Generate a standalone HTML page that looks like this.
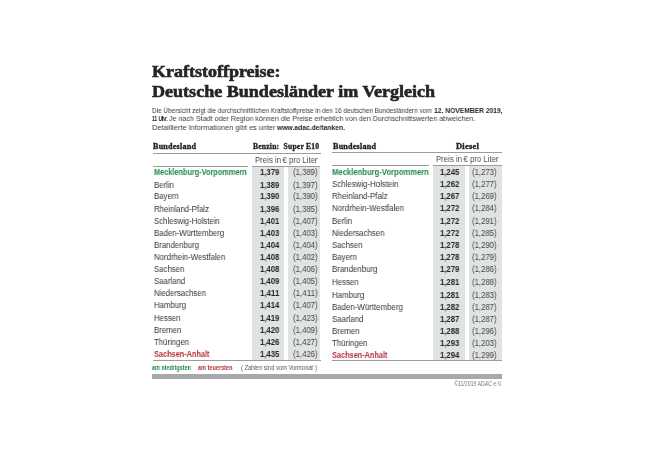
<!DOCTYPE html>
<html><head><meta charset="utf-8"><style>
html,body{margin:0;padding:0;background:#fff;width:650px;height:449px;overflow:hidden;position:relative}
.t{position:absolute;white-space:nowrap;line-height:1;will-change:transform}
.r{position:absolute}
b{font-weight:bold}
</style></head><body>
<div class="t" id="e0" style="top:62.94px;font-family:'Liberation Serif', serif;font-size:17.5px;font-weight:bold;color:#242424;letter-spacing:0px;left:152.2px;transform-origin:0 0;transform:scaleX(1.0284);-webkit-text-stroke:0.6px #242424;">Kraftstoffpreise:</div>
<div class="t" id="e1" style="top:82.74px;font-family:'Liberation Serif', serif;font-size:17.5px;font-weight:bold;color:#242424;letter-spacing:0px;left:152.2px;transform-origin:0 0;transform:scaleX(1.0319);-webkit-text-stroke:0.6px #242424;">Deutsche Bundesländer im Vergleich</div>
<div class="t" id="e2" style="top:106.87px;font-family:'Liberation Sans', sans-serif;font-size:7.6px;font-weight:normal;color:#3a3a3a;letter-spacing:0px;left:152px;transform-origin:0 0;transform:scaleX(0.8420);">Die Übersicht zeigt die durchschnittlichen Kraftstoffpreise in den 16 deutschen Bundesländern vom</div>
<div class="t" id="e3" style="top:106.87px;font-family:'Liberation Sans', sans-serif;font-size:7.6px;font-weight:bold;color:#262626;letter-spacing:0px;left:433.6px;transform-origin:0 0;transform:scaleX(0.8832);">12. NOVEMBER 2019,</div>
<div class="t" id="e4" style="top:115.27px;font-family:'Liberation Sans', sans-serif;font-size:7.6px;font-weight:bold;color:#262626;letter-spacing:0px;left:152px;transform-origin:0 0;transform:scaleX(0.6344);">11 Uhr.</div>
<div class="t" id="e5" style="top:115.27px;font-family:'Liberation Sans', sans-serif;font-size:7.6px;font-weight:normal;color:#3a3a3a;letter-spacing:0px;left:169.0px;transform-origin:0 0;transform:scaleX(0.9387);">Je nach Stadt oder Region können die Preise erheblich von den Durchschnittswerten abweichen.</div>
<div class="t" id="e6" style="top:123.67px;font-family:'Liberation Sans', sans-serif;font-size:7.6px;font-weight:normal;color:#3a3a3a;letter-spacing:0px;left:152px;transform-origin:0 0;transform:scaleX(0.9624);">Detaillierte Informationen gibt es unter</div>
<div class="t" id="e7" style="top:123.67px;font-family:'Liberation Sans', sans-serif;font-size:7.6px;font-weight:bold;color:#262626;letter-spacing:0px;left:277.2px;transform-origin:0 0;transform:scaleX(0.8885);">www.adac.de/tanken.</div>
<div class="t" id="e8" style="top:143.32px;font-family:'Liberation Serif', serif;font-size:7.5px;font-weight:bold;color:#222;letter-spacing:0.2px;left:153.1px;transform-origin:0 0;transform:scaleX(1.0813);-webkit-text-stroke:0.3px #222;">Bundesland</div>
<div class="t" id="e9" style="top:143.32px;font-family:'Liberation Serif', serif;font-size:7.5px;font-weight:bold;color:#222;letter-spacing:0.2px;left:252.95px;transform-origin:0 0;transform:scaleX(1.0129);-webkit-text-stroke:0.3px #222;">Benzin:&nbsp; Super E10</div>
<div class="r" style="left:152.5px;top:153px;width:168.00px;height:1.10px;background:#9c9c9c"></div>
<div class="t" id="e11" style="top:156.05px;font-family:'Liberation Sans', sans-serif;font-size:8.8px;font-weight:normal;color:#4a4a4a;letter-spacing:0px;left:254.8px;transform-origin:0 0;transform:scaleX(0.8840);">Preis in&#8239;€ pro Liter</div>
<div class="r" style="left:152.5px;top:165.7px;width:95.50px;height:1.10px;background:#9c9c9c"></div>
<div class="r" style="left:251.6px;top:165.7px;width:68.90px;height:1.10px;background:#9c9c9c"></div>
<div class="r" style="left:251.6px;top:166.8px;width:32.70px;height:193.20px;background:#e0e3e4"></div>
<div class="r" style="left:287.9px;top:166.8px;width:32.60px;height:193.20px;background:#e0e3e4"></div>
<div class="r" style="left:152.5px;top:360px;width:168.00px;height:1.10px;background:#9c9c9c"></div>
<div class="t" id="e17" style="top:168.39px;font-family:'Liberation Sans', sans-serif;font-size:8.4px;font-weight:bold;color:#23894b;letter-spacing:0px;left:153.5px;transform-origin:0 0;transform:scaleX(0.8750);">Mecklenburg-Vorpommern</div>
<div class="t" id="e18" style="top:168.30px;font-family:'Liberation Sans', sans-serif;font-size:8.5px;font-weight:bold;color:#262626;letter-spacing:0px;left:259.65px;transform-origin:0 0;transform:scaleX(0.9116);">1,379</div>
<div class="t" id="e19" style="top:168.30px;font-family:'Liberation Sans', sans-serif;font-size:8.5px;font-weight:normal;color:#454545;letter-spacing:0px;left:292.7px;transform-origin:0 0;transform:scaleX(0.9132);">(1,389)</div>
<div class="t" id="e20" style="top:180.69px;font-family:'Liberation Sans', sans-serif;font-size:8.4px;font-weight:normal;color:#333333;letter-spacing:0px;left:153.5px;transform-origin:0 0;transform:scaleX(0.9300);">Berlin</div>
<div class="t" id="e21" style="top:180.60px;font-family:'Liberation Sans', sans-serif;font-size:8.5px;font-weight:bold;color:#262626;letter-spacing:0px;left:259.65px;transform-origin:0 0;transform:scaleX(0.9116);">1,389</div>
<div class="t" id="e22" style="top:180.60px;font-family:'Liberation Sans', sans-serif;font-size:8.5px;font-weight:normal;color:#454545;letter-spacing:0px;left:292.7px;transform-origin:0 0;transform:scaleX(0.9132);">(1,397)</div>
<div class="t" id="e23" style="top:192.39px;font-family:'Liberation Sans', sans-serif;font-size:8.4px;font-weight:normal;color:#333333;letter-spacing:0px;left:153.5px;transform-origin:0 0;transform:scaleX(0.9300);">Bayern</div>
<div class="t" id="e24" style="top:192.30px;font-family:'Liberation Sans', sans-serif;font-size:8.5px;font-weight:bold;color:#262626;letter-spacing:0px;left:259.65px;transform-origin:0 0;transform:scaleX(0.9116);">1,390</div>
<div class="t" id="e25" style="top:192.30px;font-family:'Liberation Sans', sans-serif;font-size:8.5px;font-weight:normal;color:#454545;letter-spacing:0px;left:292.7px;transform-origin:0 0;transform:scaleX(0.9132);">(1,390)</div>
<div class="t" id="e26" style="top:204.59px;font-family:'Liberation Sans', sans-serif;font-size:8.4px;font-weight:normal;color:#333333;letter-spacing:0px;left:153.5px;transform-origin:0 0;transform:scaleX(0.9300);">Rheinland-Pfalz</div>
<div class="t" id="e27" style="top:204.50px;font-family:'Liberation Sans', sans-serif;font-size:8.5px;font-weight:bold;color:#262626;letter-spacing:0px;left:259.65px;transform-origin:0 0;transform:scaleX(0.9116);">1,396</div>
<div class="t" id="e28" style="top:204.50px;font-family:'Liberation Sans', sans-serif;font-size:8.5px;font-weight:normal;color:#454545;letter-spacing:0px;left:292.7px;transform-origin:0 0;transform:scaleX(0.9132);">(1,385)</div>
<div class="t" id="e29" style="top:216.99px;font-family:'Liberation Sans', sans-serif;font-size:8.4px;font-weight:normal;color:#333333;letter-spacing:0px;left:153.5px;transform-origin:0 0;transform:scaleX(0.9300);">Schleswig-Holstein</div>
<div class="t" id="e30" style="top:216.90px;font-family:'Liberation Sans', sans-serif;font-size:8.5px;font-weight:bold;color:#262626;letter-spacing:0px;left:259.65px;transform-origin:0 0;transform:scaleX(0.9116);">1,401</div>
<div class="t" id="e31" style="top:216.90px;font-family:'Liberation Sans', sans-serif;font-size:8.5px;font-weight:normal;color:#454545;letter-spacing:0px;left:292.7px;transform-origin:0 0;transform:scaleX(0.9132);">(1,407)</div>
<div class="t" id="e32" style="top:229.19px;font-family:'Liberation Sans', sans-serif;font-size:8.4px;font-weight:normal;color:#333333;letter-spacing:0px;left:153.5px;transform-origin:0 0;transform:scaleX(0.9300);">Baden-Württemberg</div>
<div class="t" id="e33" style="top:229.10px;font-family:'Liberation Sans', sans-serif;font-size:8.5px;font-weight:bold;color:#262626;letter-spacing:0px;left:259.65px;transform-origin:0 0;transform:scaleX(0.9116);">1,403</div>
<div class="t" id="e34" style="top:229.10px;font-family:'Liberation Sans', sans-serif;font-size:8.5px;font-weight:normal;color:#454545;letter-spacing:0px;left:292.7px;transform-origin:0 0;transform:scaleX(0.9132);">(1,403)</div>
<div class="t" id="e35" style="top:241.09px;font-family:'Liberation Sans', sans-serif;font-size:8.4px;font-weight:normal;color:#333333;letter-spacing:0px;left:153.5px;transform-origin:0 0;transform:scaleX(0.9300);">Brandenburg</div>
<div class="t" id="e36" style="top:241.00px;font-family:'Liberation Sans', sans-serif;font-size:8.5px;font-weight:bold;color:#262626;letter-spacing:0px;left:259.65px;transform-origin:0 0;transform:scaleX(0.9116);">1,404</div>
<div class="t" id="e37" style="top:241.00px;font-family:'Liberation Sans', sans-serif;font-size:8.5px;font-weight:normal;color:#454545;letter-spacing:0px;left:292.7px;transform-origin:0 0;transform:scaleX(0.9132);">(1,404)</div>
<div class="t" id="e38" style="top:253.19px;font-family:'Liberation Sans', sans-serif;font-size:8.4px;font-weight:normal;color:#333333;letter-spacing:0px;left:153.5px;transform-origin:0 0;transform:scaleX(0.9300);">Nordrhein-Westfalen</div>
<div class="t" id="e39" style="top:253.10px;font-family:'Liberation Sans', sans-serif;font-size:8.5px;font-weight:bold;color:#262626;letter-spacing:0px;left:259.65px;transform-origin:0 0;transform:scaleX(0.9116);">1,408</div>
<div class="t" id="e40" style="top:253.10px;font-family:'Liberation Sans', sans-serif;font-size:8.5px;font-weight:normal;color:#454545;letter-spacing:0px;left:292.7px;transform-origin:0 0;transform:scaleX(0.9132);">(1,402)</div>
<div class="t" id="e41" style="top:264.99px;font-family:'Liberation Sans', sans-serif;font-size:8.4px;font-weight:normal;color:#333333;letter-spacing:0px;left:153.5px;transform-origin:0 0;transform:scaleX(0.9300);">Sachsen</div>
<div class="t" id="e42" style="top:264.90px;font-family:'Liberation Sans', sans-serif;font-size:8.5px;font-weight:bold;color:#262626;letter-spacing:0px;left:259.65px;transform-origin:0 0;transform:scaleX(0.9116);">1,408</div>
<div class="t" id="e43" style="top:264.90px;font-family:'Liberation Sans', sans-serif;font-size:8.5px;font-weight:normal;color:#454545;letter-spacing:0px;left:292.7px;transform-origin:0 0;transform:scaleX(0.9132);">(1,406)</div>
<div class="t" id="e44" style="top:277.49px;font-family:'Liberation Sans', sans-serif;font-size:8.4px;font-weight:normal;color:#333333;letter-spacing:0px;left:153.5px;transform-origin:0 0;transform:scaleX(0.9300);">Saarland</div>
<div class="t" id="e45" style="top:277.40px;font-family:'Liberation Sans', sans-serif;font-size:8.5px;font-weight:bold;color:#262626;letter-spacing:0px;left:259.65px;transform-origin:0 0;transform:scaleX(0.9116);">1,409</div>
<div class="t" id="e46" style="top:277.40px;font-family:'Liberation Sans', sans-serif;font-size:8.5px;font-weight:normal;color:#454545;letter-spacing:0px;left:292.7px;transform-origin:0 0;transform:scaleX(0.9132);">(1,405)</div>
<div class="t" id="e47" style="top:289.49px;font-family:'Liberation Sans', sans-serif;font-size:8.4px;font-weight:normal;color:#333333;letter-spacing:0px;left:153.5px;transform-origin:0 0;transform:scaleX(0.9300);">Niedersachsen</div>
<div class="t" id="e48" style="top:289.40px;font-family:'Liberation Sans', sans-serif;font-size:8.5px;font-weight:bold;color:#262626;letter-spacing:0px;left:259.65px;transform-origin:0 0;transform:scaleX(0.9321);">1,411</div>
<div class="t" id="e49" style="top:289.40px;font-family:'Liberation Sans', sans-serif;font-size:8.5px;font-weight:normal;color:#454545;letter-spacing:0px;left:292.7px;transform-origin:0 0;transform:scaleX(0.9349);">(1,411)</div>
<div class="t" id="e50" style="top:301.39px;font-family:'Liberation Sans', sans-serif;font-size:8.4px;font-weight:normal;color:#333333;letter-spacing:0px;left:153.5px;transform-origin:0 0;transform:scaleX(0.9300);">Hamburg</div>
<div class="t" id="e51" style="top:301.30px;font-family:'Liberation Sans', sans-serif;font-size:8.5px;font-weight:bold;color:#262626;letter-spacing:0px;left:259.65px;transform-origin:0 0;transform:scaleX(0.9116);">1,414</div>
<div class="t" id="e52" style="top:301.30px;font-family:'Liberation Sans', sans-serif;font-size:8.5px;font-weight:normal;color:#454545;letter-spacing:0px;left:292.7px;transform-origin:0 0;transform:scaleX(0.9132);">(1,407)</div>
<div class="t" id="e53" style="top:314.09px;font-family:'Liberation Sans', sans-serif;font-size:8.4px;font-weight:normal;color:#333333;letter-spacing:0px;left:153.5px;transform-origin:0 0;transform:scaleX(0.9300);">Hessen</div>
<div class="t" id="e54" style="top:314.00px;font-family:'Liberation Sans', sans-serif;font-size:8.5px;font-weight:bold;color:#262626;letter-spacing:0px;left:259.65px;transform-origin:0 0;transform:scaleX(0.9116);">1,419</div>
<div class="t" id="e55" style="top:314.00px;font-family:'Liberation Sans', sans-serif;font-size:8.5px;font-weight:normal;color:#454545;letter-spacing:0px;left:292.7px;transform-origin:0 0;transform:scaleX(0.9132);">(1,423)</div>
<div class="t" id="e56" style="top:325.79px;font-family:'Liberation Sans', sans-serif;font-size:8.4px;font-weight:normal;color:#333333;letter-spacing:0px;left:153.5px;transform-origin:0 0;transform:scaleX(0.9300);">Bremen</div>
<div class="t" id="e57" style="top:325.70px;font-family:'Liberation Sans', sans-serif;font-size:8.5px;font-weight:bold;color:#262626;letter-spacing:0px;left:259.65px;transform-origin:0 0;transform:scaleX(0.9116);">1,420</div>
<div class="t" id="e58" style="top:325.70px;font-family:'Liberation Sans', sans-serif;font-size:8.5px;font-weight:normal;color:#454545;letter-spacing:0px;left:292.7px;transform-origin:0 0;transform:scaleX(0.9132);">(1,409)</div>
<div class="t" id="e59" style="top:337.79px;font-family:'Liberation Sans', sans-serif;font-size:8.4px;font-weight:normal;color:#333333;letter-spacing:0px;left:153.5px;transform-origin:0 0;transform:scaleX(0.9300);">Thüringen</div>
<div class="t" id="e60" style="top:337.70px;font-family:'Liberation Sans', sans-serif;font-size:8.5px;font-weight:bold;color:#262626;letter-spacing:0px;left:259.65px;transform-origin:0 0;transform:scaleX(0.9116);">1,426</div>
<div class="t" id="e61" style="top:337.70px;font-family:'Liberation Sans', sans-serif;font-size:8.5px;font-weight:normal;color:#454545;letter-spacing:0px;left:292.7px;transform-origin:0 0;transform:scaleX(0.9132);">(1,427)</div>
<div class="t" id="e62" style="top:349.69px;font-family:'Liberation Sans', sans-serif;font-size:8.4px;font-weight:bold;color:#b3313a;letter-spacing:0px;left:153.5px;transform-origin:0 0;transform:scaleX(0.8750);">Sachsen-Anhalt</div>
<div class="t" id="e63" style="top:349.60px;font-family:'Liberation Sans', sans-serif;font-size:8.5px;font-weight:bold;color:#262626;letter-spacing:0px;left:259.65px;transform-origin:0 0;transform:scaleX(0.9116);">1,435</div>
<div class="t" id="e64" style="top:349.60px;font-family:'Liberation Sans', sans-serif;font-size:8.5px;font-weight:normal;color:#454545;letter-spacing:0px;left:292.7px;transform-origin:0 0;transform:scaleX(0.9132);">(1,426)</div>
<div class="t" id="e65" style="top:143.32px;font-family:'Liberation Serif', serif;font-size:7.5px;font-weight:bold;color:#222;letter-spacing:0.2px;left:332.6px;transform-origin:0 0;transform:scaleX(1.0813);-webkit-text-stroke:0.3px #222;">Bundesland</div>
<div class="t" id="e66" style="top:143.32px;font-family:'Liberation Serif', serif;font-size:7.5px;font-weight:bold;color:#222;letter-spacing:0.2px;left:455.9px;transform-origin:0 0;transform:scaleX(1.1288);-webkit-text-stroke:0.3px #222;">Diesel</div>
<div class="r" style="left:332px;top:152px;width:170.00px;height:1.10px;background:#9c9c9c"></div>
<div class="t" id="e68" style="top:155.05px;font-family:'Liberation Sans', sans-serif;font-size:8.8px;font-weight:normal;color:#4a4a4a;letter-spacing:0px;left:436.15px;transform-origin:0 0;transform:scaleX(0.8840);">Preis in&#8239;€ pro Liter</div>
<div class="r" style="left:332px;top:164.7px;width:97.00px;height:1.10px;background:#9c9c9c"></div>
<div class="r" style="left:432.8px;top:164.7px;width:69.20px;height:1.10px;background:#9c9c9c"></div>
<div class="r" style="left:432.8px;top:165.8px;width:32.50px;height:194.20px;background:#e0e3e4"></div>
<div class="r" style="left:468.7px;top:165.8px;width:33.30px;height:194.20px;background:#e0e3e4"></div>
<div class="r" style="left:332px;top:360px;width:170.00px;height:1.10px;background:#9c9c9c"></div>
<div class="t" id="e74" style="top:168.19px;font-family:'Liberation Sans', sans-serif;font-size:8.4px;font-weight:bold;color:#23894b;letter-spacing:0px;left:332.4px;transform-origin:0 0;transform:scaleX(0.9150);">Mecklenburg-Vorpommern</div>
<div class="t" id="e75" style="top:168.10px;font-family:'Liberation Sans', sans-serif;font-size:8.5px;font-weight:bold;color:#262626;letter-spacing:0px;left:439.75px;transform-origin:0 0;transform:scaleX(0.9116);">1,245</div>
<div class="t" id="e76" style="top:168.10px;font-family:'Liberation Sans', sans-serif;font-size:8.5px;font-weight:normal;color:#454545;letter-spacing:0px;left:472.25px;transform-origin:0 0;transform:scaleX(0.9132);">(1,273)</div>
<div class="t" id="e77" style="top:180.09px;font-family:'Liberation Sans', sans-serif;font-size:8.4px;font-weight:normal;color:#333333;letter-spacing:0px;left:332.4px;transform-origin:0 0;transform:scaleX(0.9393);">Schleswig-Holstein</div>
<div class="t" id="e78" style="top:180.00px;font-family:'Liberation Sans', sans-serif;font-size:8.5px;font-weight:bold;color:#262626;letter-spacing:0px;left:439.75px;transform-origin:0 0;transform:scaleX(0.9116);">1,262</div>
<div class="t" id="e79" style="top:180.00px;font-family:'Liberation Sans', sans-serif;font-size:8.5px;font-weight:normal;color:#454545;letter-spacing:0px;left:472.25px;transform-origin:0 0;transform:scaleX(0.9132);">(1,277)</div>
<div class="t" id="e80" style="top:192.09px;font-family:'Liberation Sans', sans-serif;font-size:8.4px;font-weight:normal;color:#333333;letter-spacing:0px;left:332.4px;transform-origin:0 0;transform:scaleX(0.9393);">Rheinland-Pfalz</div>
<div class="t" id="e81" style="top:192.00px;font-family:'Liberation Sans', sans-serif;font-size:8.5px;font-weight:bold;color:#262626;letter-spacing:0px;left:439.75px;transform-origin:0 0;transform:scaleX(0.9116);">1,267</div>
<div class="t" id="e82" style="top:192.00px;font-family:'Liberation Sans', sans-serif;font-size:8.5px;font-weight:normal;color:#454545;letter-spacing:0px;left:472.25px;transform-origin:0 0;transform:scaleX(0.9132);">(1,269)</div>
<div class="t" id="e83" style="top:203.99px;font-family:'Liberation Sans', sans-serif;font-size:8.4px;font-weight:normal;color:#333333;letter-spacing:0px;left:332.4px;transform-origin:0 0;transform:scaleX(0.9393);">Nordrhein-Westfalen</div>
<div class="t" id="e84" style="top:203.90px;font-family:'Liberation Sans', sans-serif;font-size:8.5px;font-weight:bold;color:#262626;letter-spacing:0px;left:439.75px;transform-origin:0 0;transform:scaleX(0.9116);">1,272</div>
<div class="t" id="e85" style="top:203.90px;font-family:'Liberation Sans', sans-serif;font-size:8.5px;font-weight:normal;color:#454545;letter-spacing:0px;left:472.25px;transform-origin:0 0;transform:scaleX(0.9132);">(1,284)</div>
<div class="t" id="e86" style="top:216.99px;font-family:'Liberation Sans', sans-serif;font-size:8.4px;font-weight:normal;color:#333333;letter-spacing:0px;left:332.4px;transform-origin:0 0;transform:scaleX(0.9393);">Berlin</div>
<div class="t" id="e87" style="top:216.90px;font-family:'Liberation Sans', sans-serif;font-size:8.5px;font-weight:bold;color:#262626;letter-spacing:0px;left:439.75px;transform-origin:0 0;transform:scaleX(0.9116);">1,272</div>
<div class="t" id="e88" style="top:216.90px;font-family:'Liberation Sans', sans-serif;font-size:8.5px;font-weight:normal;color:#454545;letter-spacing:0px;left:472.25px;transform-origin:0 0;transform:scaleX(0.9132);">(1,291)</div>
<div class="t" id="e89" style="top:228.89px;font-family:'Liberation Sans', sans-serif;font-size:8.4px;font-weight:normal;color:#333333;letter-spacing:0px;left:332.4px;transform-origin:0 0;transform:scaleX(0.9393);">Niedersachsen</div>
<div class="t" id="e90" style="top:228.80px;font-family:'Liberation Sans', sans-serif;font-size:8.5px;font-weight:bold;color:#262626;letter-spacing:0px;left:439.75px;transform-origin:0 0;transform:scaleX(0.9116);">1,272</div>
<div class="t" id="e91" style="top:228.80px;font-family:'Liberation Sans', sans-serif;font-size:8.5px;font-weight:normal;color:#454545;letter-spacing:0px;left:472.25px;transform-origin:0 0;transform:scaleX(0.9132);">(1,285)</div>
<div class="t" id="e92" style="top:240.89px;font-family:'Liberation Sans', sans-serif;font-size:8.4px;font-weight:normal;color:#333333;letter-spacing:0px;left:332.4px;transform-origin:0 0;transform:scaleX(0.9393);">Sachsen</div>
<div class="t" id="e93" style="top:240.80px;font-family:'Liberation Sans', sans-serif;font-size:8.5px;font-weight:bold;color:#262626;letter-spacing:0px;left:439.75px;transform-origin:0 0;transform:scaleX(0.9116);">1,278</div>
<div class="t" id="e94" style="top:240.80px;font-family:'Liberation Sans', sans-serif;font-size:8.5px;font-weight:normal;color:#454545;letter-spacing:0px;left:472.25px;transform-origin:0 0;transform:scaleX(0.9132);">(1,290)</div>
<div class="t" id="e95" style="top:252.59px;font-family:'Liberation Sans', sans-serif;font-size:8.4px;font-weight:normal;color:#333333;letter-spacing:0px;left:332.4px;transform-origin:0 0;transform:scaleX(0.9393);">Bayern</div>
<div class="t" id="e96" style="top:252.50px;font-family:'Liberation Sans', sans-serif;font-size:8.5px;font-weight:bold;color:#262626;letter-spacing:0px;left:439.75px;transform-origin:0 0;transform:scaleX(0.9116);">1,278</div>
<div class="t" id="e97" style="top:252.50px;font-family:'Liberation Sans', sans-serif;font-size:8.5px;font-weight:normal;color:#454545;letter-spacing:0px;left:472.25px;transform-origin:0 0;transform:scaleX(0.9132);">(1,279)</div>
<div class="t" id="e98" style="top:264.99px;font-family:'Liberation Sans', sans-serif;font-size:8.4px;font-weight:normal;color:#333333;letter-spacing:0px;left:332.4px;transform-origin:0 0;transform:scaleX(0.9393);">Brandenburg</div>
<div class="t" id="e99" style="top:264.90px;font-family:'Liberation Sans', sans-serif;font-size:8.5px;font-weight:bold;color:#262626;letter-spacing:0px;left:439.75px;transform-origin:0 0;transform:scaleX(0.9116);">1,279</div>
<div class="t" id="e100" style="top:264.90px;font-family:'Liberation Sans', sans-serif;font-size:8.5px;font-weight:normal;color:#454545;letter-spacing:0px;left:472.25px;transform-origin:0 0;transform:scaleX(0.9132);">(1,286)</div>
<div class="t" id="e101" style="top:278.29px;font-family:'Liberation Sans', sans-serif;font-size:8.4px;font-weight:normal;color:#333333;letter-spacing:0px;left:332.4px;transform-origin:0 0;transform:scaleX(0.9393);">Hessen</div>
<div class="t" id="e102" style="top:278.20px;font-family:'Liberation Sans', sans-serif;font-size:8.5px;font-weight:bold;color:#262626;letter-spacing:0px;left:439.75px;transform-origin:0 0;transform:scaleX(0.9116);">1,281</div>
<div class="t" id="e103" style="top:278.20px;font-family:'Liberation Sans', sans-serif;font-size:8.5px;font-weight:normal;color:#454545;letter-spacing:0px;left:472.25px;transform-origin:0 0;transform:scaleX(0.9132);">(1,288)</div>
<div class="t" id="e104" style="top:290.59px;font-family:'Liberation Sans', sans-serif;font-size:8.4px;font-weight:normal;color:#333333;letter-spacing:0px;left:332.4px;transform-origin:0 0;transform:scaleX(0.9393);">Hamburg</div>
<div class="t" id="e105" style="top:290.50px;font-family:'Liberation Sans', sans-serif;font-size:8.5px;font-weight:bold;color:#262626;letter-spacing:0px;left:439.75px;transform-origin:0 0;transform:scaleX(0.9116);">1,281</div>
<div class="t" id="e106" style="top:290.50px;font-family:'Liberation Sans', sans-serif;font-size:8.5px;font-weight:normal;color:#454545;letter-spacing:0px;left:472.25px;transform-origin:0 0;transform:scaleX(0.9132);">(1,283)</div>
<div class="t" id="e107" style="top:302.79px;font-family:'Liberation Sans', sans-serif;font-size:8.4px;font-weight:normal;color:#333333;letter-spacing:0px;left:332.4px;transform-origin:0 0;transform:scaleX(0.9393);">Baden-Württemberg</div>
<div class="t" id="e108" style="top:302.70px;font-family:'Liberation Sans', sans-serif;font-size:8.5px;font-weight:bold;color:#262626;letter-spacing:0px;left:439.75px;transform-origin:0 0;transform:scaleX(0.9116);">1,282</div>
<div class="t" id="e109" style="top:302.70px;font-family:'Liberation Sans', sans-serif;font-size:8.5px;font-weight:normal;color:#454545;letter-spacing:0px;left:472.25px;transform-origin:0 0;transform:scaleX(0.9132);">(1,287)</div>
<div class="t" id="e110" style="top:315.19px;font-family:'Liberation Sans', sans-serif;font-size:8.4px;font-weight:normal;color:#333333;letter-spacing:0px;left:332.4px;transform-origin:0 0;transform:scaleX(0.9393);">Saarland</div>
<div class="t" id="e111" style="top:315.10px;font-family:'Liberation Sans', sans-serif;font-size:8.5px;font-weight:bold;color:#262626;letter-spacing:0px;left:439.75px;transform-origin:0 0;transform:scaleX(0.9116);">1,287</div>
<div class="t" id="e112" style="top:315.10px;font-family:'Liberation Sans', sans-serif;font-size:8.5px;font-weight:normal;color:#454545;letter-spacing:0px;left:472.25px;transform-origin:0 0;transform:scaleX(0.9132);">(1,287)</div>
<div class="t" id="e113" style="top:327.19px;font-family:'Liberation Sans', sans-serif;font-size:8.4px;font-weight:normal;color:#333333;letter-spacing:0px;left:332.4px;transform-origin:0 0;transform:scaleX(0.9393);">Bremen</div>
<div class="t" id="e114" style="top:327.10px;font-family:'Liberation Sans', sans-serif;font-size:8.5px;font-weight:bold;color:#262626;letter-spacing:0px;left:439.75px;transform-origin:0 0;transform:scaleX(0.9116);">1,288</div>
<div class="t" id="e115" style="top:327.10px;font-family:'Liberation Sans', sans-serif;font-size:8.5px;font-weight:normal;color:#454545;letter-spacing:0px;left:472.25px;transform-origin:0 0;transform:scaleX(0.9132);">(1,296)</div>
<div class="t" id="e116" style="top:339.09px;font-family:'Liberation Sans', sans-serif;font-size:8.4px;font-weight:normal;color:#333333;letter-spacing:0px;left:332.4px;transform-origin:0 0;transform:scaleX(0.9393);">Thüringen</div>
<div class="t" id="e117" style="top:339.00px;font-family:'Liberation Sans', sans-serif;font-size:8.5px;font-weight:bold;color:#262626;letter-spacing:0px;left:439.75px;transform-origin:0 0;transform:scaleX(0.9116);">1,293</div>
<div class="t" id="e118" style="top:339.00px;font-family:'Liberation Sans', sans-serif;font-size:8.5px;font-weight:normal;color:#454545;letter-spacing:0px;left:472.25px;transform-origin:0 0;transform:scaleX(0.9132);">(1,203)</div>
<div class="t" id="e119" style="top:350.79px;font-family:'Liberation Sans', sans-serif;font-size:8.4px;font-weight:bold;color:#b3313a;letter-spacing:0px;left:332.4px;transform-origin:0 0;transform:scaleX(0.8750);">Sachsen-Anhalt</div>
<div class="t" id="e120" style="top:350.70px;font-family:'Liberation Sans', sans-serif;font-size:8.5px;font-weight:bold;color:#262626;letter-spacing:0px;left:439.75px;transform-origin:0 0;transform:scaleX(0.9116);">1,294</div>
<div class="t" id="e121" style="top:350.70px;font-family:'Liberation Sans', sans-serif;font-size:8.5px;font-weight:normal;color:#454545;letter-spacing:0px;left:472.25px;transform-origin:0 0;transform:scaleX(0.9132);">(1,299)</div>
<div class="t" id="e122" style="top:365.33px;font-family:'Liberation Sans', sans-serif;font-size:6.7px;font-weight:bold;color:#23894b;letter-spacing:0px;left:152.3px;transform-origin:0 0;transform:scaleX(0.8197);">am niedrigsten</div>
<div class="t" id="e123" style="top:365.33px;font-family:'Liberation Sans', sans-serif;font-size:6.7px;font-weight:bold;color:#b3313a;letter-spacing:0px;left:197.6px;transform-origin:0 0;transform:scaleX(0.8285);">am teuersten</div>
<div class="t" id="e124" style="top:365.14px;font-family:'Liberation Sans', sans-serif;font-size:6.8px;font-weight:normal;color:#555;letter-spacing:0px;left:240.5px;transform-origin:0 0;transform:scaleX(0.8502);">( Zahlen sind vom Vormonat )</div>
<div class="r" style="left:152px;top:374px;width:350.30px;height:4.80px;background:#a6aaab"></div>
<div class="t" id="e126" style="top:380.98px;font-family:'Liberation Sans', sans-serif;font-size:6.4px;font-weight:normal;color:#777;letter-spacing:0px;right:147.7px;transform-origin:100% 0;transform:scaleX(0.8074);">©11/2019 ADAC e.V.</div>
</body></html>
